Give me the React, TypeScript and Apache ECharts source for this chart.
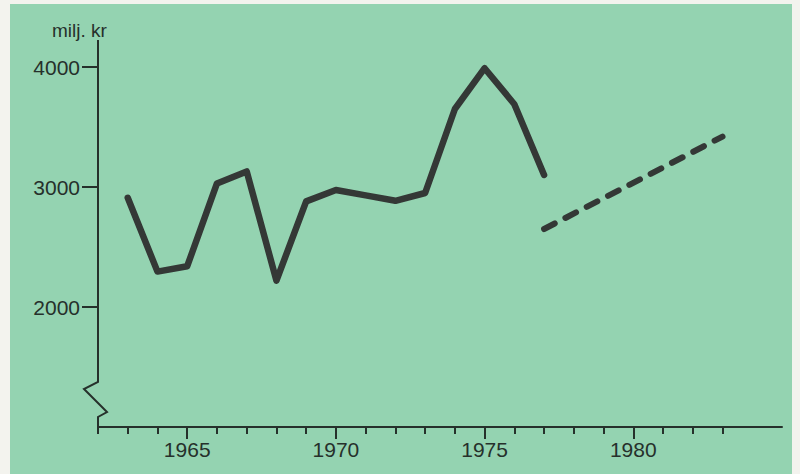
import React, { useEffect, useRef } from "react";
import * as echarts from "echarts";

// Data
const years: number[] = [1963, 1964, 1965, 1966, 1967, 1968, 1969, 1970, 1971, 1972, 1973, 1974, 1975, 1976, 1977];
const values: number[] = [2910, 2295, 2340, 3030, 3130, 2220, 2880, 2975, 2930, 2885, 2950, 3650, 3990, 3690, 3100];
const forecastYears: number[] = [1977, 1983];
const forecastValues: number[] = [2650, 3420];
const yTickValues: number[] = [2000, 3000, 4000];
const xMajorTicks: number[] = [1965, 1970, 1975, 1980];
const xMinorTicks: number[] = [1962, 1963, 1964, 1965, 1966, 1967, 1968, 1969, 1970, 1971, 1972, 1973, 1974, 1975, 1976, 1977, 1978, 1979, 1980, 1981, 1982, 1983];
const yUnit = "milj. kr";

const INK = "#26302b";
const LINE = "#343836";
const FONT = "'Liberation Sans', Arial, Helvetica, sans-serif";

export default function App() {
  const ref = useRef<HTMLDivElement>(null);

  useEffect(() => {
    if (!ref.current) return;
    const chart = echarts.init(ref.current, undefined, { renderer: "svg" });
    const option: any = {
      animation: false,
      backgroundColor: "transparent",
      grid: { left: 98, right: 18, top: 40, bottom: 47 },
      xAxis: [
        {
          type: "value",
          min: 1962,
          max: 1985,
          position: "bottom",
          axisLine: { show: true, lineStyle: { color: INK, width: 2 } },
          axisTick: { show: true, customValues: xMajorTicks, length: 12, lineStyle: { color: INK, width: 2 } },
          axisLabel: {
            customValues: xMajorTicks,
            fontSize: 21,
            fontFamily: FONT,
            color: INK,
            margin: 12,
            formatter: (v: number) => String(v),
          },
          splitLine: { show: false },
        },
        {
          type: "value",
          min: 1962,
          max: 1985,
          position: "bottom",
          offset: 0,
          axisLine: { show: false },
          axisTick: { show: true, customValues: xMinorTicks, length: 7, lineStyle: { color: INK, width: 2 } },
          axisLabel: { show: false },
          splitLine: { show: false },
        },
      ],
      yAxis: {
        type: "value",
        min: 1000,
        max: 4225,
        interval: 1000,
        axisLine: { show: false },
        axisTick: { show: true, customValues: yTickValues, length: 16, lineStyle: { color: INK, width: 2 } },
        axisLabel: {
          customValues: yTickValues,
          fontSize: 21,
          fontFamily: FONT,
          color: INK,
          margin: 18,
          formatter: (v: number) => String(v),
        },
        splitLine: { show: false },
      },
      series: [
        {
          type: "line",
          data: years.map((y, i) => [y, values[i]]),
          symbol: "none",
          lineStyle: { color: LINE, width: 6.5, cap: "round", join: "round" },
          z: 3,
        },
        {
          type: "line",
          data: forecastYears.map((y, i) => [y, forecastValues[i]]),
          symbol: "none",
          lineStyle: { color: LINE, width: 6, type: [12, 12], cap: "round", join: "round" },
          z: 3,
        },
      ],
    };
    chart.setOption(option);

    // y axis line with a break (zigzag) near the bottom
    const top = chart.convertToPixel({ yAxisIndex: 0 }, 4225) as number;
    const bottom = chart.convertToPixel({ yAxisIndex: 0 }, 1000) as number;
    const ax = chart.convertToPixel({ xAxisIndex: 0 }, 1962) as number;
    const pts = [
      [ax, top],
      [ax, bottom - 45],
      [ax - 14, bottom - 38],
      [ax + 9, bottom - 15],
      [ax, bottom - 10],
      [ax, bottom],
    ];
    chart.setOption({
      graphic: [
        {
          type: "polyline",
          shape: { points: pts },
          style: { stroke: INK, lineWidth: 2, fill: "none" },
          z: 10,
        },
        {
          type: "text",
          x: ax - 46,
          y: top,
          style: {
            text: yUnit,
            fontSize: 19,
            fontFamily: FONT,
            fill: INK,
            verticalAlign: "bottom",
          },
          z: 10,
        },
      ],
    });

    return () => chart.dispose();
  }, []);

  return (
    <div style={{ position: "absolute", left: 0, top: 0, width: 800, height: 474, background: "#f3f3ee", overflow: "hidden" }}>
      <div style={{ position: "absolute", left: 10, top: 4, width: 782, height: 470, background: "#94d3b1" }} />
      <div ref={ref} style={{ position: "absolute", left: 0, top: 0, width: 800, height: 474 }} />
    </div>
  );
}
